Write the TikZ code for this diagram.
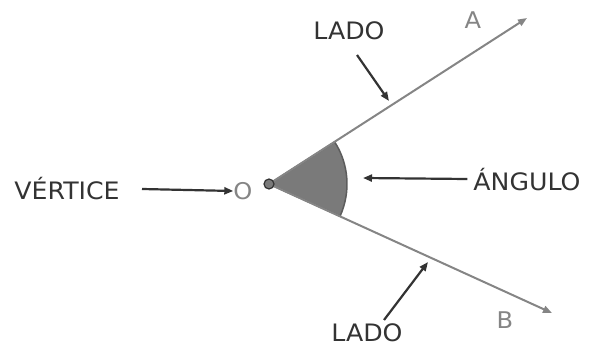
\documentclass[tikz,border=0pt]{standalone}
\usepackage{fontspec}
\setmainfont{DejaVu Sans}[FakeStretch=1.05]
\usetikzlibrary{arrows.meta}
\definecolor{dk}{HTML}{333333}
\definecolor{lt}{HTML}{858585}
\definecolor{wedge}{HTML}{7A7A7A}
\tikzset{
  lbl/.style={font=\fontsize{24}{27}\selectfont, text=dk, inner sep=0pt},
  lbllt/.style={font=\fontsize{23}{26}\selectfont, text=lt, inner sep=0pt},
  pointer/.style={draw=dk, line width=2.2pt, -{Triangle[length=9pt,width=7pt]}},
  ray/.style={draw=lt, line width=2pt, -{Triangle[length=9pt,width=7pt]}},
}
\begin{document}
\begin{tikzpicture}[x=1pt,y=-1pt]
\useasboundingbox (0,0) rectangle (596,347);
\coordinate (O) at (269,184);
\coordinate (A) at (527,18);
\coordinate (B) at (552,313);
% wedge
\fill[wedge, draw=dk!80, line width=1.5pt] (O) -- ++(-32.6:78) arc[start angle=-32.6, end angle=24.4, radius=78] -- cycle;
\draw[ray] (O) -- (A);
\draw[ray] (O) -- (B);
\fill[wedge, draw=dk, line width=1.2pt] (O) circle (5);
% labels
\node[lbl] (vert) at (67,189) {VÉRTICE};
\node[lbllt] (olab) at (243,191) {O};
\node[lbl] (ang) at (527,180) {ÁNGULO};
\node[lbl] (lado1) at (349,31) {LADO};
\node[lbl] (lado2) at (367,333) {LADO};
\node[lbllt] (alab) at (473,20) {A};
\node[lbllt] (blab) at (505,320) {B};
\coordinate (p1) at (389,101);
\coordinate (p2) at (428,262);
\coordinate (p3) at (363,178);
% pointers
\draw[pointer] (142,189) -- (olab.west);
\draw[pointer] (ang.west) ++(-6,-1) -- (p3);
\draw[pointer] (357,55) -- (p1);
\draw[pointer] (384,320) -- (p2);
\end{tikzpicture}
\end{document}
